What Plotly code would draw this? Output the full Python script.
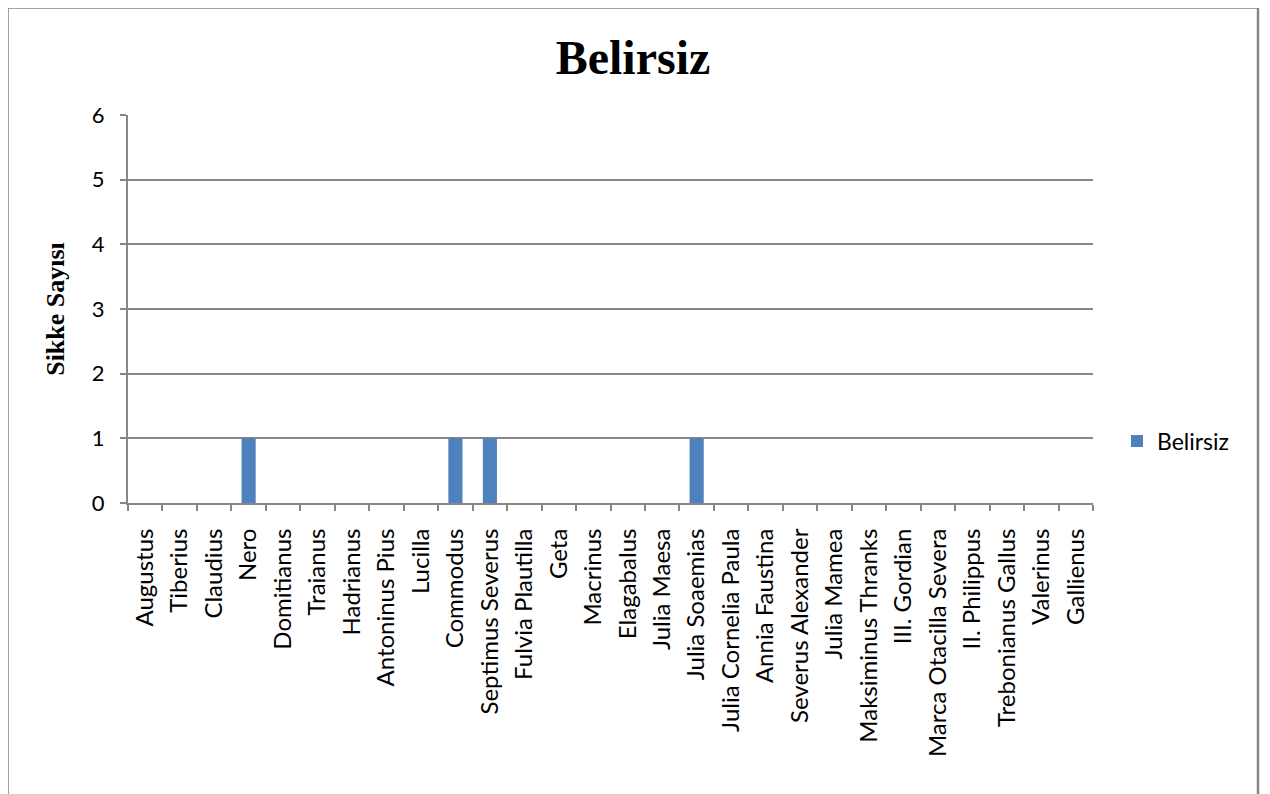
import plotly.graph_objects as go

categories = ["Augustus", "Tiberius", "Claudius", "Nero", "Domitianus", "Traianus",
              "Hadrianus", "Antoninus Pius", "Lucilla", "Commodus", "Septimus Severus",
              "Fulvia Plautilla", "Geta", "Macrinus", "Elagabalus", "Julia Maesa",
              "Julia Soaemias", "Julia Cornelia Paula", "Annia Faustina",
              "Severus Alexander", "Julia Mamea", "Maksiminus Thranks", "III. Gordian",
              "Marca Otacilla Severa", "II. Philippus", "Trebonianus Gallus",
              "Valerinus", "Gallienus"]
values = [0, 0, 0, 1, 0, 0, 0, 0, 0, 1, 1, 0, 0, 0, 0, 0, 1, 0, 0, 0, 0, 0, 0, 0, 0, 0, 0, 0]
y_ticks = [0, 1, 2, 3, 4, 5, 6]

OFF = 8  # page body margin
W, H = 1262, 786
L, R, T, B = 128 - OFF, 1093 - OFF, 115 - OFF, 503 - OFF
pw, ph = R - L, B - T

def px(x):
    return (x - OFF - L) / pw

def py(y):
    return (B - (y - OFF)) / ph

fig = go.Figure()
fig.add_trace(go.Bar(x=categories, y=values, name="Belirsiz",
                     marker=dict(color="#4F81BD", line=dict(width=0))))

fig.update_layout(
    width=W, height=H,
    margin=dict(l=L, r=W - R, t=T, b=H - B, autoexpand=False),
    paper_bgcolor="white", plot_bgcolor="white",
    bargap=0.59,
    showlegend=True,
    title=dict(text="<b>Belirsiz</b>", x=(633 - OFF) / W, xanchor="center",
               y=1 - (57 - OFF) / H, yanchor="middle",
               font=dict(family="Liberation Serif", size=48, color="black")),
    legend=dict(x=px(1117), y=py(441), xanchor="left", yanchor="middle",
                font=dict(family="Lato", size=23, color="black"),
                bgcolor="rgba(0,0,0,0)", itemwidth=30),
    xaxis=dict(type="category", tickangle=-90, showgrid=False,
               showline=True, linecolor="#868686", linewidth=2,
               ticks="outside", tickson="boundaries", ticklen=6, tickcolor="#868686",
               tickwidth=2, ticklabelstandoff=14,
               tickfont=dict(family="Lato", size=24, color="black"),
               range=[-0.5, len(categories) - 0.5]),
    yaxis=dict(range=[0, 6], tickvals=y_ticks, showgrid=True, gridcolor="#868686",
               gridwidth=1.5, zeroline=False,
               showline=True, linecolor="#868686", linewidth=2,
               ticks="outside", ticklen=6, tickcolor="#868686", tickwidth=2,
               ticklabelstandoff=11,
               tickfont=dict(family="Lato", size=22, color="black"),
               title=dict(text="<b>Sikke Sayısı</b>", standoff=20,
                          font=dict(family="Liberation Serif", size=26, color="black"))),
    shapes=[dict(type="rect", xref="paper", yref="paper",
                 x0=px(7.5), x1=px(1258), y0=py(830), y1=py(7.5),
                 line=dict(color="#868686", width=2.5), layer="below")],
)

fig.write_html("out.html")
